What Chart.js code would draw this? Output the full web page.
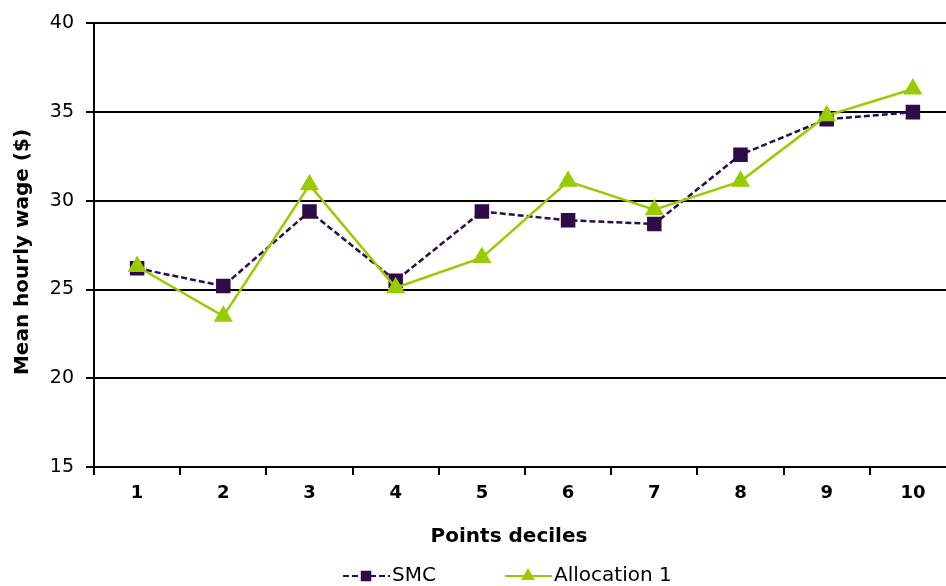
<!DOCTYPE html>
<html>
<head>
<meta charset="utf-8">
<script src="https://cdn.jsdelivr.net/npm/chart.js@4/dist/chart.umd.min.js"></script>
<style>
  html, body { margin: 0; padding: 0; background: #fff; overflow: hidden; }
  #wrap { position: relative; width: 967px; height: 586px; }
</style>
</head>
<body>
<div id="wrap"><canvas id="chart"></canvas></div>
<script>
(() => {
  "use strict";

  // -- data ----------------------------------------------------------------
  const deciles = ["1", "2", "3", "4", "5", "6", "7", "8", "9", "10"];
  const smc = [26.2, 25.2, 29.4, 25.5, 29.4, 28.9, 28.7, 32.6, 34.6, 35.0];
  const allocation1 = [26.3, 23.5, 30.9, 25.1, 26.8, 31.1, 29.5, 31.1, 34.8, 36.3];
  const yTicks = [15, 20, 25, 30, 35, 40];
  const xTitle = "Points deciles";
  const yTitle = "Mean hourly wage ($)";

  const PURPLE = "#2f0b4a";
  const GREEN = "#99cc00";
  const FONT = "'DejaVu Sans', Verdana, sans-serif";

  // -- axis titles + legend with line + marker samples ----------------------
  const annotations = {
    id: "annotations",
    afterDraw(chart) {
      const ctx = chart.ctx;
      ctx.save();
      ctx.fillStyle = "#000";
      ctx.textAlign = "center";
      ctx.textBaseline = "middle";
      ctx.font = "bold 20px " + FONT;
      ctx.fillText(xTitle, 509, 537);
      ctx.save();
      ctx.translate(23, 252);
      ctx.rotate(-Math.PI / 2);
      ctx.fillText(yTitle, 0, 0);
      ctx.restore();

      const y = 576;
      const items = [
        { ds: chart.data.datasets[0], x: 343, r: 6 },
        { ds: chart.data.datasets[1], x: 505, r: 6 },
      ];
      ctx.font = "20px " + FONT;
      ctx.textAlign = "left";
      for (const it of items) {
        const ds = it.ds;
        ctx.strokeStyle = ds.borderColor;
        ctx.lineWidth = 2;
        ctx.setLineDash(ds.borderDash || []);
        ctx.beginPath();
        ctx.moveTo(it.x, y);
        ctx.lineTo(it.x + 47, y);
        ctx.stroke();
        ctx.setLineDash([]);
        ctx.fillStyle = ds.pointBackgroundColor;
        ctx.strokeStyle = ds.pointBorderColor;
        Chart.helpers.drawPoint(ctx, {
          pointStyle: ds.pointStyle, radius: it.r, borderWidth: 1
        }, it.x + 23, y);
        ctx.fillStyle = "#000";
        ctx.fillText(ds.label, it.x + 49, y);
      }
      ctx.restore();
    }
  };

  new Chart(document.getElementById("chart"), {
    type: "line",
    data: {
      labels: deciles,
      datasets: [
        {
          label: "SMC",
          data: smc,
          borderColor: PURPLE,
          borderWidth: 2.5,
          borderDash: [6, 3],
          pointStyle: "rect",
          pointRadius: 8.5,
          pointBackgroundColor: PURPLE,
          pointBorderColor: PURPLE,
          tension: 0,
          order: 2,
        },
        {
          label: "Allocation 1",
          data: allocation1,
          borderColor: GREEN,
          borderWidth: 2.5,
          pointStyle: "triangle",
          pointRadius: 8.5,
          pointBackgroundColor: GREEN,
          pointBorderColor: GREEN,
          tension: 0,
          order: 1,
        },
      ],
    },
    options: {
      responsive: true,
      maintainAspectRatio: false,
      animation: false,
      layout: { padding: { top: 17, right: 0, left: 0, bottom: 0 } },
      plugins: { legend: { display: false }, tooltip: { enabled: false } },
      scales: {
        x: {
          offset: true,
          grid: {
            offset: true,
            drawOnChartArea: false,
            color: "#000",
            lineWidth: 2,
            tickLength: 8,
          },
          border: { color: "#000", width: 2 },
          ticks: {
            color: "#000",
            padding: 8,
            font: { family: FONT, size: 18, weight: "bold" },
          },
          afterFit(scale) { scale.height = 119; },
        },
        y: {
          min: 15,
          max: 40,
          afterBuildTicks(scale) { scale.ticks = yTicks.map((v) => ({ value: v })); },
          grid: { color: "#000", lineWidth: 2, tickLength: 8 },
          border: { color: "#000", width: 2 },
          ticks: {
            color: "#000",
            padding: 12,
            font: { family: FONT, size: 19 },
          },
          afterFit(scale) { scale.width = 94; },
        },
      },
    },
    plugins: [annotations],
  });
})();
</script>
</body>
</html>
